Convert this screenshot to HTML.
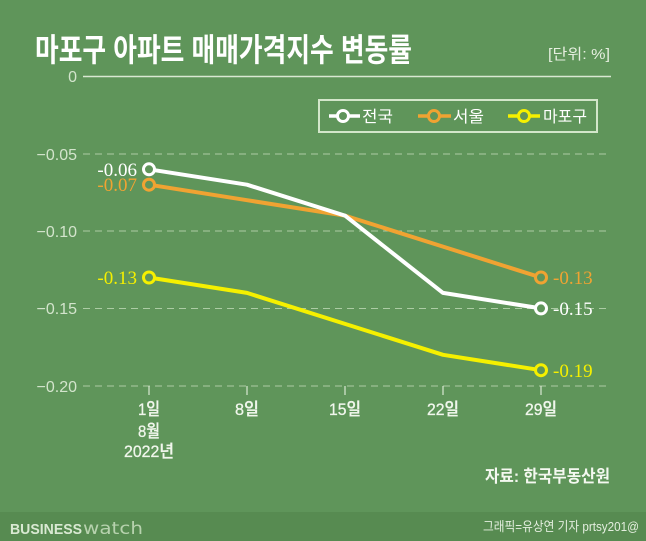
<!DOCTYPE html>
<html><head><meta charset="utf-8"><style>
html,body{margin:0;padding:0;background:#5f955a;}
svg{display:block;}
</style></head><body>
<svg width="646" height="541" viewBox="0 0 646 541" xmlns="http://www.w3.org/2000/svg" font-family="'Liberation Sans','Noto Sans CJK KR',sans-serif">
<rect x="0" y="0" width="646" height="541" fill="#5f955a"/>
<rect x="0" y="512" width="646" height="29" fill="#578b51"/>
<!-- title -->
<text x="35" y="61" font-size="32" font-weight="bold" fill="#ffffff" textLength="377" lengthAdjust="spacingAndGlyphs">마포구 아파트 매매가격지수 변동률</text>
<text x="548" y="59" font-size="15" fill="#e6efe0" textLength="62" lengthAdjust="spacingAndGlyphs">[단위: %]</text>
<!-- grid -->
<line x1="83" y1="76.5" x2="611" y2="76.5" stroke="#d9e8d2" stroke-width="1.5"/>
<g stroke="#acccA4" stroke-width="1" stroke-dasharray="7,5">
<line x1="83" y1="154" x2="611" y2="154"/>
<line x1="83" y1="231" x2="611" y2="231"/>
<line x1="83" y1="308.5" x2="611" y2="308.5"/>
<line x1="83" y1="386" x2="611" y2="386"/>
</g>
<g fill="#d3e4cc" font-size="16" text-anchor="end">
<text x="77" y="82">0</text>
<text x="77" y="160">−0.05</text>
<text x="77" y="237">−0.10</text>
<text x="77" y="314">−0.15</text>
<text x="77" y="392">−0.20</text>
</g>
<!-- ticks -->
<g stroke="#d9e8d2" stroke-width="1.2">
<line x1="149" y1="386" x2="149" y2="395"/>
<line x1="247" y1="386" x2="247" y2="395"/>
<line x1="345" y1="386" x2="345" y2="395"/>
<line x1="443" y1="386" x2="443" y2="395"/>
<line x1="541" y1="386" x2="541" y2="395"/>
</g>
<g fill="#f0f6ec" font-size="17" text-anchor="middle" font-weight="500" stroke="#f0f6ec" stroke-width="0.3">
<text x="149" y="415" textLength="22" lengthAdjust="spacingAndGlyphs">1일</text>
<text x="149" y="437" textLength="22" lengthAdjust="spacingAndGlyphs">8월</text>
<text x="149" y="457" textLength="50" lengthAdjust="spacingAndGlyphs">2022년</text>
<text x="247" y="415" textLength="24" lengthAdjust="spacingAndGlyphs">8일</text>
<text x="345" y="415" textLength="32" lengthAdjust="spacingAndGlyphs">15일</text>
<text x="443" y="415" textLength="32" lengthAdjust="spacingAndGlyphs">22일</text>
<text x="541" y="415" textLength="32" lengthAdjust="spacingAndGlyphs">29일</text>
</g>
<!-- series -->
<g fill="none" stroke-width="4" stroke-linejoin="round">
<polyline stroke="#f5f000" points="149,277.5 247,292.9 345,323.9 443,354.8 541,370.2"/>
<polyline stroke="#f0a332" points="149,184.7 247,200.2 345,215.6 443,246.6 541,277.5"/>
<polyline stroke="#ffffff" points="149,169.3 247,184.7 345,215.6 443,292.9 541,308.4"/>
</g>
<g fill="#5f955a" stroke-width="3">
<circle cx="149" cy="277.5" r="5.5" stroke="#f5f000"/>
<circle cx="541" cy="370.2" r="5.5" stroke="#f5f000"/>
<circle cx="149" cy="184.7" r="5.5" stroke="#f0a332"/>
<circle cx="541" cy="277.5" r="5.5" stroke="#f0a332"/>
<circle cx="149" cy="169.3" r="5.5" stroke="#ffffff"/>
<circle cx="541" cy="308.4" r="5.5" stroke="#ffffff"/>
</g>
<g font-family="'Liberation Serif',serif" font-size="19">
<text x="137" y="176" text-anchor="end" fill="#ffffff">-0.06</text>
<text x="137" y="191" text-anchor="end" fill="#f0a332">-0.07</text>
<text x="137" y="284" text-anchor="end" fill="#f5f000">-0.13</text>
<text x="553" y="284" fill="#f0a332">-0.13</text>
<text x="553" y="315" fill="#ffffff">-0.15</text>
<text x="553" y="377" fill="#f5f000">-0.19</text>
</g>
<!-- legend -->
<rect x="319" y="100" width="278" height="32" fill="none" stroke="#d3e6ca" stroke-width="2"/>
<g stroke-width="3.5" fill="#5f955a">
<line x1="329" y1="116" x2="360" y2="116" stroke="#ffffff"/>
<circle cx="343" cy="116" r="5.5" stroke="#ffffff" stroke-width="3"/>
<line x1="418" y1="116" x2="451" y2="116" stroke="#f0a332"/>
<circle cx="434" cy="116" r="5.5" stroke="#f0a332" stroke-width="3"/>
<line x1="508" y1="116" x2="540" y2="116" stroke="#f5f000"/>
<circle cx="524" cy="116" r="5.5" stroke="#f5f000" stroke-width="3"/>
</g>
<g fill="#ffffff" font-size="16">
<text x="362" y="122" textLength="31" lengthAdjust="spacingAndGlyphs">전국</text>
<text x="453" y="122" textLength="31" lengthAdjust="spacingAndGlyphs">서울</text>
<text x="543" y="122" textLength="44" lengthAdjust="spacingAndGlyphs">마포구</text>
</g>
<!-- source -->
<text x="485" y="482" font-size="17" font-weight="bold" fill="#f4f8f0" textLength="125" lengthAdjust="spacingAndGlyphs">자료: 한국부동산원</text>
<!-- footer -->
<text x="10" y="534" font-size="15" font-weight="900" fill="#d9e9d2" textLength="72" lengthAdjust="spacingAndGlyphs">BUSINESS</text>
<text x="83" y="534" font-size="17" font-weight="normal" fill="#b7d2ae" textLength="60" lengthAdjust="spacingAndGlyphs" font-family="'DejaVu Sans',sans-serif">watch</text>
<text x="483" y="531" font-size="13" fill="#e4eedf" textLength="156" lengthAdjust="spacingAndGlyphs">그래픽=유상연 기자 prtsy201@</text>
</svg>
</body></html>
